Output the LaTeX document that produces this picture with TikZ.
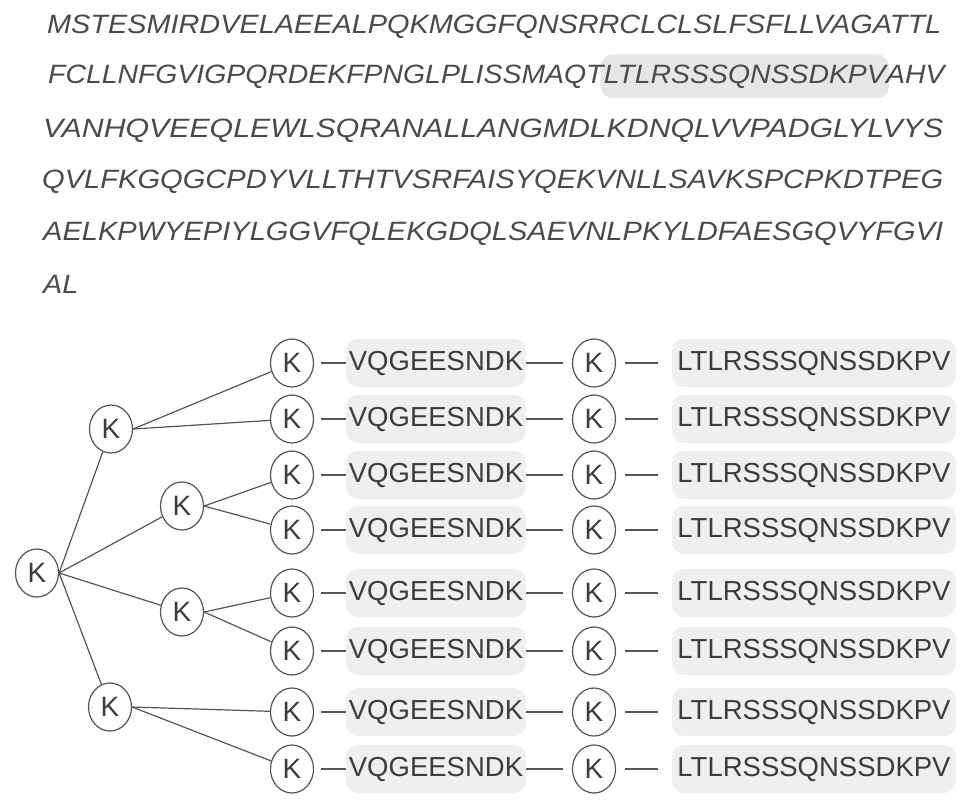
\documentclass[tikz,border=0pt]{standalone}
\usepackage{fontspec}
\setmainfont{Liberation Sans}
\newfontfamily\seqfont[FakeStretch=1.08]{Liberation Sans}
\usetikzlibrary{shapes.geometric,positioning,fit,backgrounds}
\definecolor{seqgray}{HTML}{4A4A4A}
\definecolor{inkgray}{HTML}{3C3C3C}
\definecolor{linegray}{HTML}{555555}
\definecolor{boxgray}{HTML}{EFEFEF}
\definecolor{hlgray}{HTML}{E6E6E6}

\begin{document}
\begin{tikzpicture}[
  x=1pt, y=-1pt,
  seq/.style={inner sep=0pt, anchor=base west, text=seqgray,
              font=\seqfont\itshape\fontsize{26.5}{30}\selectfont},
  hlbox/.style={rectangle, rounded corners=12pt, fill=hlgray, draw=none,
                inner xsep=3pt, inner ysep=10pt},
  lys/.style={ellipse, draw=linegray, line width=1.2pt,
              minimum width=43pt, minimum height=48pt, inner sep=0pt,
              text=inkgray, font=\fontsize{28}{30}\selectfont},
  pep/.style={rectangle, rounded corners=12pt, fill=boxgray,
              minimum width=180pt, minimum height=48pt, inner sep=0pt,
              text=inkgray, font=\fontsize{27.5}{30}\selectfont},
  tail/.style={pep, minimum width=284pt},
  edge/.style={draw=linegray, line width=1.2pt},
  tolink/.style={edge, shorten <=7pt},
  midlink/.style={edge, shorten >=9pt},
  endlink/.style={edge, shorten <=9pt, shorten >=14pt}
]
\useasboundingbox (0,0) rectangle (969,807);

% Sequence (lines justified to the same width)
\node[seq] (l1)  at (47,33)  {\resizebox{894pt}{\height}{MSTESMIRDVELAEEALPQKMGGFQNSRRCLCLSLFSFLLVAGATTL}};
\node[seq] (l2a) at (48,83)  {\scalebox{0.992}[1]{FCLLNFGVIGPQRDEKFPNGLPLISSMAQT}};
\node[seq] (l2b) at (l2a.base east) {\scalebox{0.992}[1]{LTLRSSSQNSSDKPV}};
\node[seq] (l2c) at (l2b.base east) {\scalebox{0.992}[1]{AHV}};
\node[seq] (l3)  at (43,137) {\resizebox{900pt}{\height}{VANHQVEEQLEWLSQRANALLANGMDLKDNQLVVPADGLYLVYS}};
\node[seq] (l4)  at (42,188) {\resizebox{901pt}{\height}{QVLFKGQGCPDYVLLTHTVSRFAISYQEKVNLLSAVKSPCPKDTPEG}};
\node[seq] (l5)  at (43,240) {\resizebox{900pt}{\height}{AELKPWYEPIYLGGVFQLEKGDQLSAEVNLPKYLDFAESGQVYFGVI}};
\node[seq] (l6)  at (43,293) {AL};
\begin{scope}[on background layer]
  \node[hlbox, fit=(l2b)] (hl) {};
\end{scope}

% Branches
\node[lys] (k0)  at (37,573)  {K};
\node[lys] (k1a) at (111,429) {K};
\node[lys] (k1b) at (182,506) {K};
\node[lys] (k1c) at (182,612) {K};
\node[lys] (k1d) at (110,707) {K};

% Rows
\node[lys]  (k2a) at (292,363) {K};
\node[pep]  (pa)  at (436,363) {VQGEESNDK};
\node[lys]  (k3a) at (594,363) {K};
\node[tail] (ta)  at (814,363) {LTLRSSSQNSSDKPV};

\node[lys]  (k2b) at (292,419) {K};
\node[pep]  (pb)  at (436,419) {VQGEESNDK};
\node[lys]  (k3b) at (594,419) {K};
\node[tail] (tb)  at (814,419) {LTLRSSSQNSSDKPV};

\node[lys]  (k2c) at (292,475) {K};
\node[pep]  (pc)  at (436,475) {VQGEESNDK};
\node[lys]  (k3c) at (594,475) {K};
\node[tail] (tc)  at (814,475) {LTLRSSSQNSSDKPV};

\node[lys]  (k2d) at (292,530) {K};
\node[pep]  (pd)  at (436,530) {VQGEESNDK};
\node[lys]  (k3d) at (594,530) {K};
\node[tail] (td)  at (814,530) {LTLRSSSQNSSDKPV};

\node[lys]  (k2e) at (292,593) {K};
\node[pep]  (pe)  at (436,593) {VQGEESNDK};
\node[lys]  (k3e) at (594,593) {K};
\node[tail] (te)  at (814,593) {LTLRSSSQNSSDKPV};

\node[lys]  (k2f) at (292,651) {K};
\node[pep]  (pf)  at (436,651) {VQGEESNDK};
\node[lys]  (k3f) at (594,651) {K};
\node[tail] (tf)  at (814,651) {LTLRSSSQNSSDKPV};

\node[lys]  (k2g) at (292,712) {K};
\node[pep]  (pg)  at (436,712) {VQGEESNDK};
\node[lys]  (k3g) at (594,712) {K};
\node[tail] (tg)  at (814,712) {LTLRSSSQNSSDKPV};

\node[lys]  (k2h) at (292,769) {K};
\node[pep]  (ph)  at (436,769) {VQGEESNDK};
\node[lys]  (k3h) at (594,769) {K};
\node[tail] (th)  at (814,769) {LTLRSSSQNSSDKPV};

% Tree edges
\draw[edge] (k0.east) -- (k1a);
\draw[edge] (k0.east) -- (k1b);
\draw[edge] (k0.east) -- (k1c);
\draw[edge] (k0.east) -- (k1d);
\draw[edge] (k1a.east) -- (k2a);
\draw[edge] (k1a.east) -- (k2b);
\draw[edge] (k1b.east) -- (k2c);
\draw[edge] (k1b.east) -- (k2d);
\draw[edge] (k1c.east) -- (k2e);
\draw[edge] (k1c.east) -- (k2f);
\draw[edge] (k1d.east) -- (k2g);
\draw[edge] (k1d.east) -- (k2h);

% Row links
\draw[tolink]  (k2a.east) -- (pa.west);
\draw[midlink] (pa.east)  -- (k3a.west);
\draw[endlink] (k3a.east) -- (ta.west);
\draw[tolink]  (k2b.east) -- (pb.west);
\draw[midlink] (pb.east)  -- (k3b.west);
\draw[endlink] (k3b.east) -- (tb.west);
\draw[tolink]  (k2c.east) -- (pc.west);
\draw[midlink] (pc.east)  -- (k3c.west);
\draw[endlink] (k3c.east) -- (tc.west);
\draw[tolink]  (k2d.east) -- (pd.west);
\draw[midlink] (pd.east)  -- (k3d.west);
\draw[endlink] (k3d.east) -- (td.west);
\draw[tolink]  (k2e.east) -- (pe.west);
\draw[midlink] (pe.east)  -- (k3e.west);
\draw[endlink] (k3e.east) -- (te.west);
\draw[tolink]  (k2f.east) -- (pf.west);
\draw[midlink] (pf.east)  -- (k3f.west);
\draw[endlink] (k3f.east) -- (tf.west);
\draw[tolink]  (k2g.east) -- (pg.west);
\draw[midlink] (pg.east)  -- (k3g.west);
\draw[endlink] (k3g.east) -- (tg.west);
\draw[tolink]  (k2h.east) -- (ph.west);
\draw[midlink] (ph.east)  -- (k3h.west);
\draw[endlink] (k3h.east) -- (th.west);

\end{tikzpicture}
\end{document}
